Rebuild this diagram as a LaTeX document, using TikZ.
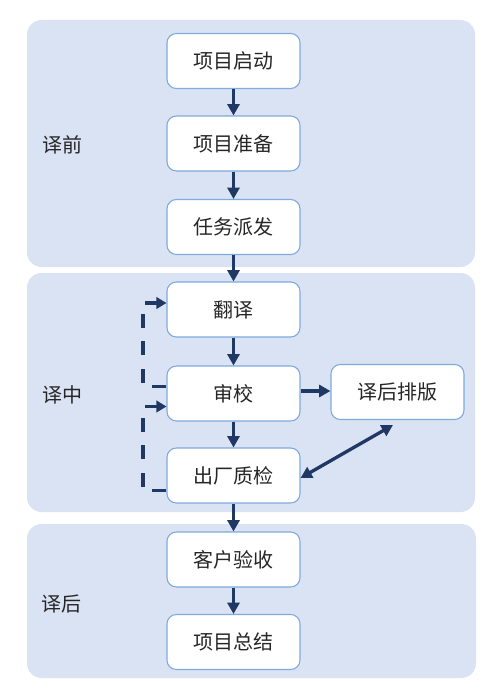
\documentclass[tikz,border=0pt]{standalone}
\usepackage{fontspec}
\setmainfont{Noto Sans CJK SC}
\usetikzlibrary{arrows.meta,calc}
\definecolor{panelc}{RGB}{218,227,243}
\definecolor{boxline}{RGB}{126,170,220}
\definecolor{arrowc}{RGB}{31,56,100}
\definecolor{txt}{RGB}{38,38,38}
\begin{document}
\begin{tikzpicture}[x=0.75pt,y=-0.75pt,
  panel/.style={fill=panelc,draw=none,rounded corners=11pt},
  stepbox/.style={draw=boxline,line width=0.8pt,fill=white,rounded corners=7pt,
    minimum width=99.75pt,minimum height=41.25pt,inner sep=0pt,
    font=\fontsize{15pt}{18pt}\selectfont,text=txt},
  phase/.style={font=\fontsize{15pt}{18pt}\selectfont,text=txt},
  flow/.style={draw=arrowc,line width=2.5pt,-{Triangle[length=8.5pt,width=9pt]}},
  both/.style={draw=arrowc,line width=2.5pt,{Triangle[length=8.5pt,width=9pt]}-{Triangle[length=8.5pt,width=9pt]}},
  fb/.style={draw=arrowc,line width=2.5pt,dash pattern=on 10.5pt off 10pt,-{Triangle[length=7.5pt,width=8.5pt]}}]
\useasboundingbox (0,0) rectangle (500,692);
\fill[panel] (27,20) rectangle (475,267);
\fill[panel] (27,273) rectangle (475,512);
\fill[panel] (27,524) rectangle (476,678);
\node[phase] (l1) at (62,145) {译前};
\node[phase] (l2) at (62,395) {译中};
\node[phase] (l3) at (61,604) {译后};
\node[stepbox] (a) at (233.5,61) {项目启动};
\node[stepbox] (b) at (233.5,143.5) {项目准备};
\node[stepbox] (c) at (233.5,227) {任务派发};
\node[stepbox] (d) at (233.5,309.5) {翻译};
\node[stepbox] (e) at (233.5,393.5) {审校};
\node[stepbox] (f) at (233.5,475.5) {出厂质检};
\node[stepbox] (g) at (397.5,392) {译后排版};
\node[stepbox] (h) at (233.5,559.5) {客户验收};
\node[stepbox] (i) at (233.5,642) {项目总结};
\draw[flow] (a) -- (b);
\draw[flow] (b) -- (c);
\draw[flow] (c) -- (d);
\draw[flow] (d) -- (e);
\draw[flow] (e) -- (f);
\draw[flow] (f) -- (h);
\draw[flow] (h) -- (i);
\draw[flow] (e.east |- 0,391) -- (g.west |- 0,391);
\coordinate (q1) at (393,425);
\draw[both] (f.east |- 0,478) -- (q1);
\draw[fb] ($(e.west)+(0,-7)$) -- (143,386.5) -- (143,303) -- ($(d.west)+(0,-6.5)$);
\draw[fb] ($(f.west)+(0,15)$) -- (143,490.5) -- (143,406.5) -- ($(e.west)+(0,13)$);
\end{tikzpicture}
\end{document}
